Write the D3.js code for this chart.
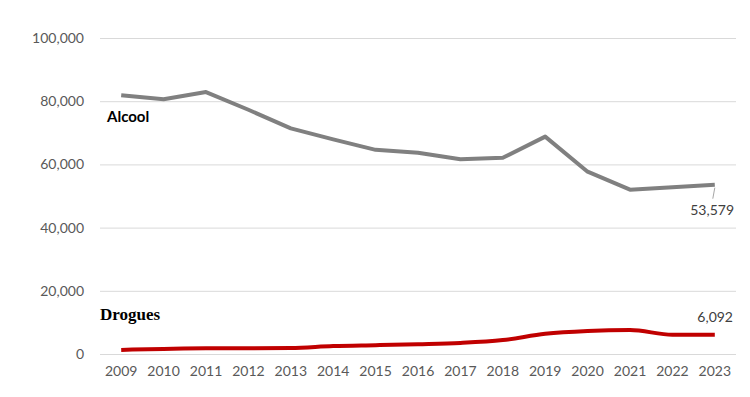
<!DOCTYPE html>
<html><head><meta charset="utf-8">
<script src="https://cdn.jsdelivr.net/npm/d3@7"></script>
<style>body{margin:0;background:#fff}</style>
</head><body>
<svg id="c" width="750" height="397"></svg>
<script>
const years = [2009,2010,2011,2012,2013,2014,2015,2016,2017,2018,2019,2020,2021,2022,2023];
const alcool = [81900,80600,82900,77300,71400,67900,64600,63700,61600,62100,68800,57700,52000,52800,53579];
const drogues = [1300,1600,1800,1800,1900,2500,2800,3100,3500,4400,6400,7300,7600,6100,6092];
const yTicks = [0,20000,40000,60000,80000,100000];

const svg = d3.select("#c");
const L = 100, R = 736, T = 38, B = 354;
const x = d3.scaleBand().domain(years).range([L,R]);
const y = d3.scaleLinear().domain([0,100000]).range([B,T]);
const fmt = d3.format(",");
const cx = d => x(d) + x.bandwidth()/2;

const yAxis = d3.axisLeft(y).tickValues(yTicks).tickFormat(fmt).tickSize(-(R-L)).tickPadding(16);
const gy = svg.append("g").attr("transform",`translate(${L},0)`).call(yAxis);
gy.select(".domain").remove();
gy.selectAll(".tick line").attr("stroke","#d9d9d9").attr("stroke-width",1);
gy.selectAll(".tick text").attr("fill","#595959").style("font-family","Lato, 'Open Sans', sans-serif").style("font-size","14px");

const xAxis = d3.axisBottom(x).tickSize(0).tickPadding(12);
const gx = svg.append("g").attr("transform",`translate(0,${B})`).call(xAxis);
gx.select(".domain").remove();
gx.selectAll(".tick text").attr("fill","#595959").style("font-family","Lato, 'Open Sans', sans-serif").style("font-size","14px");

const line = d3.line().x((d,i)=>cx(years[i])).y(d=>y(d));
svg.append("path").datum(alcool).attr("d",line).attr("fill","none").attr("stroke","#808080").attr("stroke-width",4).attr("stroke-linejoin","round");
const lineS = d3.line().x((d,i)=>cx(years[i])).y(d=>y(d)).curve(d3.curveMonotoneX);
svg.append("path").datum(drogues).attr("d",lineS).attr("fill","none").attr("stroke","#c00000").attr("stroke-width",4).attr("stroke-linejoin","round");

const last = years.length-1;
svg.append("line").attr("x1",cx(years[last])).attr("y1",y(alcool[last])+3).attr("x2",cx(years[last])-2).attr("y2",y(alcool[last])+14).attr("stroke","#a6a6a6").attr("stroke-width",1);
svg.append("text").attr("x",734).attr("y",215).attr("text-anchor","end").attr("fill","#404040").style("font-family","Lato, 'Open Sans', sans-serif").style("font-size","14px").text(fmt(alcool[last]));
svg.append("text").attr("x",733).attr("y",322).attr("text-anchor","end").attr("fill","#404040").style("font-family","Lato, 'Open Sans', sans-serif").style("font-size","14px").text(fmt(drogues[last]));

svg.append("text").attr("x",107).attr("y",122).attr("fill","#000").style("font-family","Lato, 'Open Sans', sans-serif").style("font-weight","bold").style("font-size","15px").text("Alcool");
svg.append("text").attr("x",100).attr("y",320).attr("fill","#000").style("font-family","'Liberation Serif', 'DejaVu Serif', serif").style("font-weight","bold").style("font-size","17px").text("Drogues");
</script>
</body></html>
